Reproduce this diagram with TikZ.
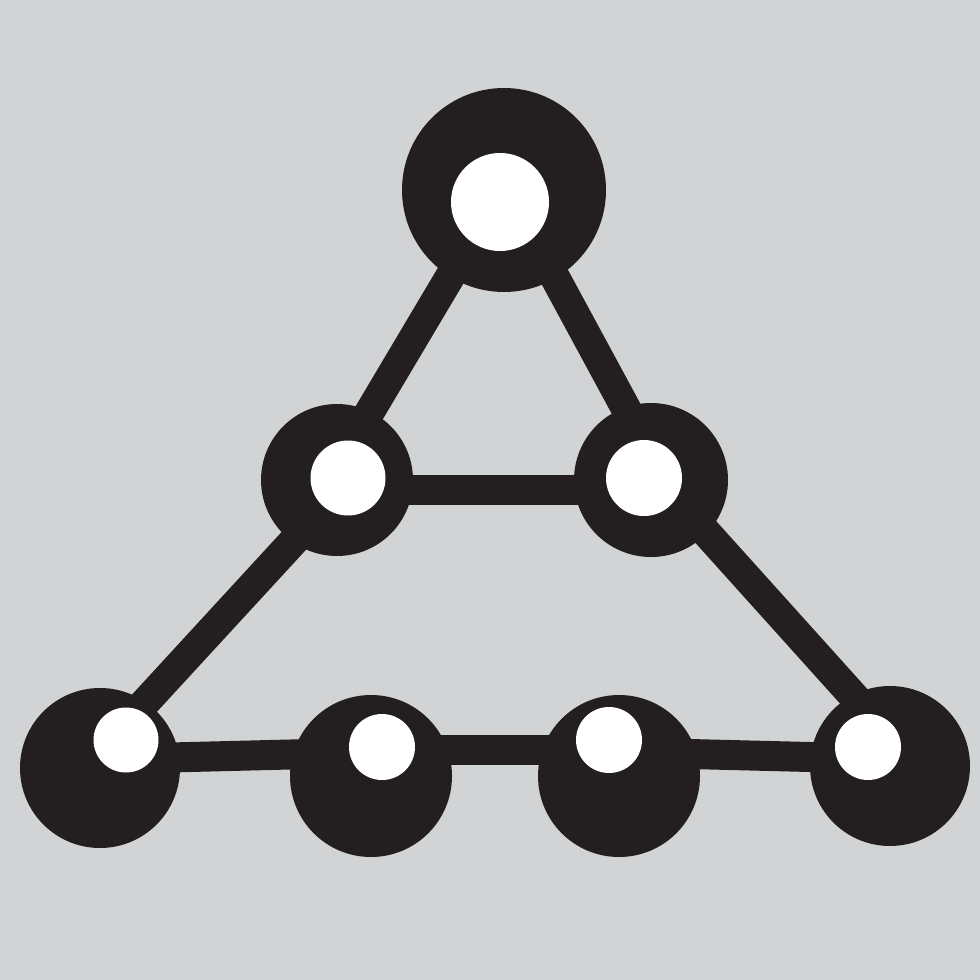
\documentclass[tikz,border=0pt]{standalone}
\definecolor{bg}{HTML}{D1D3D4}
\definecolor{ink}{HTML}{231F20}
\begin{document}
\begin{tikzpicture}[x=0.05cm,y=-0.05cm,
  outer/.style={circle,fill=ink,inner sep=0pt,minimum size=#1*0.1cm},
  hole/.style={circle,fill=white,inner sep=0pt,minimum size=#1*0.1cm},
  bar/.style={draw=ink,line width=1.5cm}]
\fill[bg] (0,0) rectangle (980,980);
\useasboundingbox (0,0) rectangle (980,980);
% connector ends
\coordinate (tA) at (454,270); \coordinate (mlA) at (353,440);
\coordinate (tB) at (551,270); \coordinate (mrA) at (643,440);
\coordinate (mlB) at (380,490); \coordinate (mrB) at (620,490);
\coordinate (mlC) at (313,520); \coordinate (b1A) at (129,720);
\coordinate (mrC) at (695,520); \coordinate (b4A) at (875,720);
\coordinate (b1B) at (150,758); \coordinate (b2A) at (310,754);
\coordinate (b2B) at (420,750); \coordinate (b3A) at (570,750);
\coordinate (b3B) at (650,753); \coordinate (b4B) at (850,758);
% connectors
\draw[bar] (tA) -- (mlA);
\draw[bar] (tB) -- (mrA);
\draw[bar] (mlB) -- (mrB);
\draw[bar] (mlC) -- (b1A);
\draw[bar] (mrC) -- (b4A);
\draw[bar] (b1B) -- (b2A);
\draw[bar] (b2B) -- (b3A);
\draw[bar] (b3B) -- (b4B);
% outer discs
\node[outer=102] (top) at (504,190) {};
\node[outer=76] (ml) at (337,480) {};
\node[outer=77] (mr) at (651,480) {};
\node[outer=80] (b1) at (100,768) {};
\node[outer=81] (b2) at (371,776) {};
\node[outer=81] (b3) at (619,776) {};
\node[outer=80] (b4) at (890,766) {};
% holes
\node[hole=49] (topH) at (500,202) {};
\node[hole=37.5] (mlH) at (348,478) {};
\node[hole=38] (mrH) at (644,478) {};
\node[hole=32.5] (b1H) at (126,740) {};
\node[hole=33] (b2H) at (382,747) {};
\node[hole=33] (b3H) at (609,740) {};
\node[hole=33] (b4H) at (868,747) {};
\end{tikzpicture}
\end{document}
